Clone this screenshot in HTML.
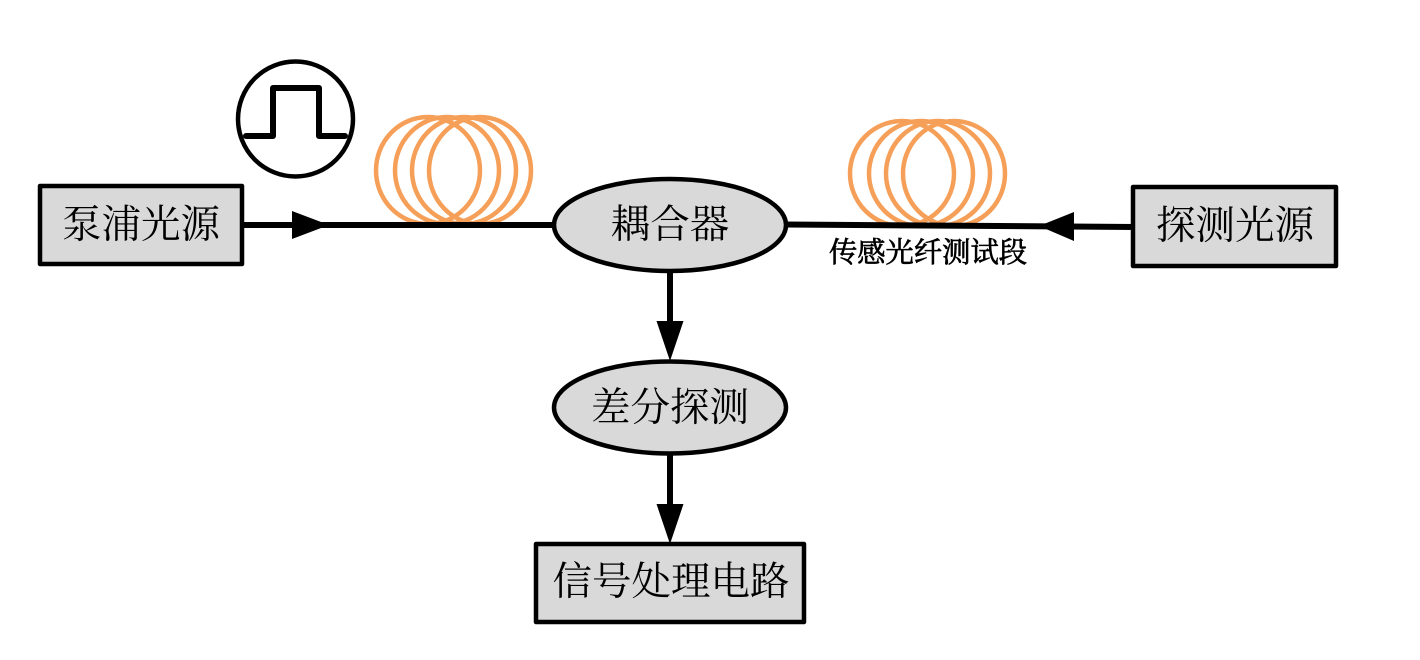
<!DOCTYPE html>
<html><head><meta charset="utf-8"><style>
html,body{margin:0;padding:0;background:#fff;width:1420px;height:660px;overflow:hidden}
svg{display:block}
text{font-family:"Liberation Serif","Noto Serif CJK SC",serif;fill:#000;text-anchor:middle}
</style></head><body>
<svg width="1420" height="660" viewBox="0 0 1420 660" xmlns="http://www.w3.org/2000/svg">
<g fill="none" stroke="#f59f58" stroke-width="4.500">
<ellipse cx="428" cy="170.500" rx="52" ry="53.500"/><ellipse cx="447" cy="170.500" rx="52" ry="53.500"/><ellipse cx="464" cy="170.500" rx="52" ry="53.500"/><ellipse cx="480" cy="170.500" rx="51" ry="53.500"/>
<ellipse cx="902" cy="173.500" rx="52" ry="52.500"/><ellipse cx="921" cy="173.500" rx="52" ry="52.500"/><ellipse cx="938" cy="173.500" rx="52" ry="52.500"/><ellipse cx="954" cy="173.500" rx="51" ry="52.500"/>
</g>
<g stroke="#000" stroke-width="6" fill="none">
<line x1="242" y1="225" x2="556" y2="225"/>
<line x1="785" y1="224.500" x2="1135" y2="227"/>
<line x1="670" y1="270" x2="670" y2="325"/>
<line x1="670" y1="452" x2="670" y2="508"/>
</g>
<g fill="#000">
<polygon points="292,211 329,225 292,239"/>
<polygon points="1039,226 1074,212 1074,241"/>
<polygon points="656.500,321 683.500,321 670,361"/>
<polygon points="656.500,504 683.500,504 670,544"/>
</g>
<circle cx="295.500" cy="119" r="57.500" fill="none" stroke="#000" stroke-width="4.500"/>
<polyline points="246,136 273,136 273,88 319,88 319,136 345,136" fill="none" stroke="#000" stroke-width="6" stroke-linecap="round" stroke-linejoin="round"/>
<g fill="#d9d9d9" stroke="#000" stroke-width="4.500" stroke-linejoin="round">
<rect x="40" y="186" width="202" height="78"/>
<rect x="1133" y="187" width="203" height="79"/>
<rect x="536" y="544" width="268" height="78"/>
<ellipse cx="670" cy="225" rx="116" ry="46"/>
<ellipse cx="670" cy="407.500" rx="116" ry="46"/>
</g>
<text x="141" y="238" font-size="39.500">泵浦光源</text>
<text x="1235" y="239" font-size="39.500">探测光源</text>
<text x="670" y="238" font-size="39.500">耦合器</text>
<text x="670" y="421" font-size="39.500">差分探测</text>
<text x="671" y="595" font-size="39.500">信号处理电路</text>
<text x="928" y="262" font-size="28.300" stroke="#000" stroke-width="0.700">传感光纤测试段</text>
</svg>
</body></html>
